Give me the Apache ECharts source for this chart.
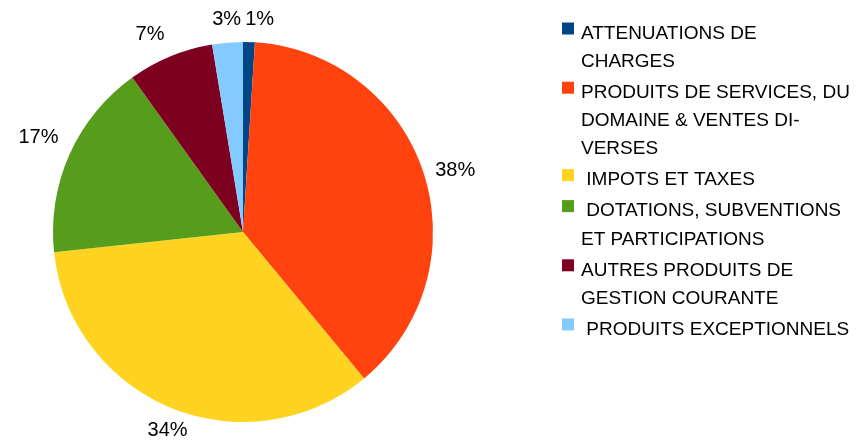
<!DOCTYPE html>
<html>
<head>
<meta charset="utf-8">
<script src="https://cdn.jsdelivr.net/npm/echarts@6/dist/echarts.min.js"></script>
<style>
  html, body { margin: 0; padding: 0; background: #ffffff; }
  #chart { width: 863px; height: 441px; }
</style>
</head>
<body>
<div id="chart"></div>
<script>
// Revenue categories and their shares (percent)
const categories = [
  'ATTENUATIONS DE CHARGES',
  'PRODUITS DE SERVICES, DU DOMAINE & VENTES DIVERSES',
  ' IMPOTS ET TAXES',
  ' DOTATIONS, SUBVENTIONS ET PARTICIPATIONS',
  'AUTRES PRODUITS DE GESTION COURANTE',
  ' PRODUITS EXCEPTIONNELS'
];
const shares = [1.0, 38.0, 34.3, 16.8, 7.3, 2.6];
// Legend text, broken into lines
const legendLines = [
  ['ATTENUATIONS DE', 'CHARGES'],
  ['PRODUITS DE SERVICES, DU', 'DOMAINE & VENTES DI-', 'VERSES'],
  [' IMPOTS ET TAXES'],
  [' DOTATIONS, SUBVENTIONS', 'ET PARTICIPATIONS'],
  ['AUTRES PRODUITS DE', 'GESTION COURANTE'],
  [' PRODUITS EXCEPTIONNELS']
];
const colors = ['#004586', '#ff420e', '#ffd320', '#579d1c', '#7e0021', '#83caff'];

const FONT = "'Liberation Sans', Arial, sans-serif";
const LINE_H = 28.2;
const CX = 243, CY = 232, R = 190;
const LABEL_OFFSET = 10;       // distance of the label anchor beyond the rim
const LABEL_FONT_SIZE = 20;
const LABEL_PAD_H = 2;

// Text alignment of an outside label, chosen from its direction (degrees, counter-clockwise from +x)
function labelAlignment(a) {
  if (a <= 22.5 || a >= 337.5) return { align: 'left', valign: 'middle' };
  if (a < 67.5) return { align: 'left', valign: 'bottom' };
  if (a < 112.5) return { align: 'center', valign: 'bottom' };
  if (a <= 157.5) return { align: 'right', valign: 'bottom' };
  if (a <= 202.5) return { align: 'right', valign: 'middle' };
  if (a < 247.5) return { align: 'right', valign: 'top' };
  if (a < 292.5) return { align: 'center', valign: 'top' };
  return { align: 'left', valign: 'top' };
}

function percentText(v, total) { return Math.round(v / total * 100) + '%'; }

// Labels centred above the pie share one row: push them apart sideways when they collide
const labelShift = (function () {
  const total = shares.reduce(function (s, v) { return s + v; }, 0);
  const ctx = document.createElement('canvas').getContext('2d');
  ctx.font = LABEL_FONT_SIZE + 'px ' + FONT;
  const row = [];
  let cum = 0;
  shares.forEach(function (v, i) {
    const mid = (cum + v / 2) / total * 2 * Math.PI;
    cum += v;
    const a = ((90 - mid * 180 / Math.PI) % 360 + 360) % 360;
    const al = labelAlignment(a);
    if (al.align === 'center' && al.valign === 'bottom') {
      const x = CX + (R + LABEL_OFFSET) * Math.sin(mid);
      const w = ctx.measureText(percentText(v, total)).width + 2 * LABEL_PAD_H;
      row.push({ i: i, left: x - w / 2, w: w });
    }
  });
  row.sort(function (p, q) { return p.left - q.left; });
  const shift = {};
  let right = -Infinity;
  row.forEach(function (t) {
    const s = Math.max(0, right - t.left);
    shift[t.i] = s;
    right = t.left + s + t.w;
  });
  return shift;
})();

// rich styles for the legend: a coloured square per category, text and indent
const legendRich = {
  t: { fontFamily: FONT, fontSize: 19, color: '#000000', lineHeight: LINE_H, padding: [10, 0, 0, 0] },
  gap: { width: 7, height: 12 },
  ind: { width: 19, height: 12 }
};
colors.forEach(function (c, i) {
  legendRich['s' + i] = { width: 12, height: 12, backgroundColor: c };
});

const chart = echarts.init(document.getElementById('chart'), null, { renderer: 'canvas' });

chart.setOption({
  animation: false,
  backgroundColor: '#ffffff',
  color: colors,
  legend: {
    orient: 'vertical',
    left: 557,
    top: 14,
    padding: 0,
    itemGap: 2,
    itemWidth: 0,
    itemHeight: 0,
    icon: 'rect',
    selectedMode: false,
    data: categories,
    textStyle: { fontFamily: FONT, fontSize: 19, lineHeight: LINE_H, color: '#000000', rich: legendRich },
    formatter: function (name) {
      const i = categories.indexOf(name);
      return legendLines[i].map(function (line, k) {
        return (k === 0 ? '{s' + i + '|}{gap|}' : '{ind|}') + '{t|' + line + '}';
      }).join('\n');
    }
  },
  series: [{
    type: 'pie',
    center: [CX, CY],
    radius: R,
    startAngle: 90,
    clockwise: true,
    avoidLabelOverlap: false,
    itemStyle: { borderWidth: 0 },
    emphasis: { disabled: true },
    label: {
      show: true,
      position: 'outside',
      fontFamily: FONT,
      fontSize: LABEL_FONT_SIZE,
      color: '#000000',
      padding: [3, LABEL_PAD_H],
      formatter: function (p) { return Math.round(p.percent) + '%'; }
    },
    labelLine: { show: true, length: LABEL_OFFSET, length2: 0, lineStyle: { opacity: 0 } },
    // place each percentage beyond the rim, aligned by its direction from the centre
    labelLayout: function (p) {
      const pts = p.labelLinePoints;
      if (!pts) { return {}; }
      const a = (Math.atan2(-(pts[1][1] - pts[0][1]), pts[1][0] - pts[0][0]) * 180 / Math.PI + 360) % 360;
      const al = labelAlignment(a);
      return {
        x: pts[1][0] + (labelShift[p.dataIndex] || 0),
        y: pts[1][1],
        align: al.align,
        verticalAlign: al.valign
      };
    },
    data: categories.map(function (name, i) { return { name: name, value: shares[i] }; })
  }]
});
</script>
</body>
</html>
